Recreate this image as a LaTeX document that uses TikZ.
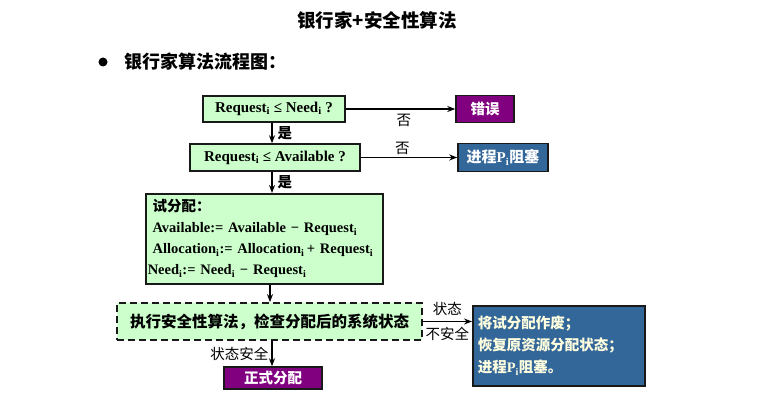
\documentclass[tikz,border=0pt]{standalone}
\usepackage{fontspec}
\setmainfont{Liberation Serif}
\newfontfamily\cjk{Noto Sans CJK SC}
\usetikzlibrary{arrows.meta, positioning, calc}

\definecolor{stepgreen}{HTML}{CCFFCC}
\definecolor{errpurple}{HTML}{800080}
\definecolor{blockblue}{HTML}{336699}
\definecolor{notecream}{HTML}{FFFFE0}
\newcommand{\zh}[1]{{\cjk #1}}
\newcommand{\sub}{\textsubscript{i}}

\begin{document}
\begin{tikzpicture}[
    x=1pt, y=-1pt,
    box/.style={draw=black!90, line width=1.5pt, fill=stepgreen, inner sep=0pt, align=center, font=\bfseries\fontsize{15}{17}\selectfont},
    endbox/.style={draw=black!90, line width=1.5pt, fill=errpurple, text=white, inner sep=0pt, align=center, font=\cjk\bfseries\fontsize{14.5}{16}\selectfont},
    waitbox/.style={draw=black!90, line width=1.5pt, fill=blockblue, text=white, inner sep=0pt, align=center, font=\bfseries\fontsize{15}{17}\selectfont},
    arrow/.style={-{Stealth[length=8pt, width=6pt]}, line width=1.3pt},
    lbl/.style={font=\cjk\fontsize{14.5}{16}\selectfont, inner sep=1pt}
]
\useasboundingbox (0,0) rectangle (759,409);

% title and bullet
\node[font=\cjk\bfseries\fontsize{18.5}{20}\selectfont] (title) at (377,20) {银行家+安全性算法};
\fill (103,62) circle (4.5);
\node[anchor=west, font=\cjk\bfseries\fontsize{18}{20}\selectfont] (head) at (121,62) {银行家算法流程图：};

% checks
\node[box, minimum width=142, minimum height=26] (needchk) at (274,109) {Request\sub\ ≤ Need\sub\ ?};
\node[endbox, minimum width=58, minimum height=27] (err) at (485,109) {错误};
\node[box, minimum width=170, minimum height=27] (availchk) at (275,157.5) {Request\sub\ ≤ Available ?};
\node[waitbox, minimum width=90, minimum height=28] (wait) at (503,157.5) {\zh{进程}P\sub\zh{阻塞}};

% trial allocation
\node[box, minimum width=237, minimum height=90, align=left, anchor=north west, text width=233, inner xsep=2pt, font=\bfseries\fontsize{14.5}{21}\selectfont] (trial) at (145,193) {%
\ \zh{试分配：}\\
\ Available:= Available − Request\sub\\
\ Allocation\sub:= Allocation\sub\,+ Request\sub\\
Need\sub:= Need\sub\ − Request\sub};

% safety check
\node[box, dash pattern=on 7pt off 4pt, line width=1.8pt, minimum width=305, minimum height=37, font=\cjk\bfseries\fontsize{15.5}{17}\selectfont] (safe) at (269.5,321.5) {执行安全性算法，检查分配后的系统状态};
\node[endbox, minimum width=98, minimum height=22] (grant) at (273,378) {正式分配};
\node[waitbox, text=notecream, minimum width=170, minimum height=80, align=left, anchor=north west, text width=162, inner xsep=5pt, font=\cjk\bfseries\fontsize{14.5}{22}\selectfont] (undo) at (472,305) {%
将试分配作废；\\
恢复原资源分配状态；\\
进程{\rmfamily P\sub}阻塞。};

% connectors
\draw[arrow] (needchk.east) -- node[lbl, below=3pt, pos=0.53]{否} (err.west |- needchk.east);
\draw[arrow] (needchk.south -| 272,0) -- node[lbl, right=4pt, font=\cjk\bfseries\fontsize{14.5}{16}\selectfont]{是} (availchk.north -| 272,0);
\draw[arrow] (availchk.east) -- node[lbl, above=1pt, pos=0.43]{否} (wait.west |- availchk.east);
\draw[arrow] (availchk.south -| 272,0) -- node[lbl, right=4pt, font=\cjk\bfseries\fontsize{14.5}{16}\selectfont]{是} (trial.north -| 272,0);
\draw[arrow] (trial.south -| 270,0) -- (safe.north -| 270,0);
\draw[arrow] (safe.east) -- node[lbl, above=4pt]{状态} node[lbl, below=4pt]{不安全} (undo.west |- safe.east);
\draw[arrow] (safe.south -| 272,0) -- node[lbl, left=2pt]{状态安全} (grant.north -| 272,0);
\end{tikzpicture}
\end{document}
